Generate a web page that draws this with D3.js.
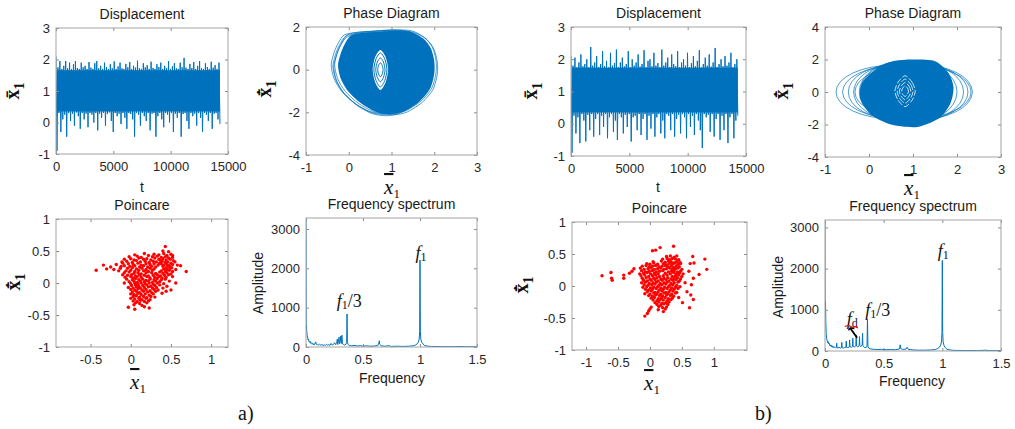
<!DOCTYPE html>
<html>
<head>
<meta charset="utf-8">
<script src="https://cdn.jsdelivr.net/npm/d3@7"></script>
<style>
  body { margin: 0; background: #fff; }
  svg { display: block; font-family: "Liberation Sans", Arial, sans-serif; }
</style>
</head>
<body>
<svg id="fig" width="1015" height="429"></svg>
<script>
// ---- data ----
const T_END = 14300;

// displacement: alternating upper / lower swings of the response
const dispUpA = [2.1, 1.75, 1.95, 1.7, 1.8, 1.95, 1.72, 1.9, 1.7, 1.85, 1.95, 1.73, 1.7, 1.9, 1.75, 1.8, 1.7, 1.92, 1.74, 1.7, 1.88, 1.95, 1.72, 1.8, 1.7, 1.9, 1.76, 1.7, 1.85, 1.72, 1.94, 1.7, 1.78, 1.9, 1.72, 1.7, 1.86, 1.75, 1.92, 1.7, 1.8, 1.74, 1.96, 1.72, 1.7, 1.88, 1.75, 1.82, 1.7, 1.93, 1.73, 1.7, 1.85, 1.76, 1.9, 1.7, 1.8, 1.72, 1.95, 1.7, 1.78, 1.88, 1.72, 1.7, 1.9, 1.75, 2.05, 1.74, 1.7, 1.86, 1.73, 1.92, 1.7, 1.8, 1.95, 1.72, 1.7, 1.88, 1.76, 1.7, 1.93, 1.74, 1.82, 1.7, 1.9];
const dispLoA = [-0.9, 0.3, -0.3, 0.1, 0.25, -0.45, 0.3, 0.05, 0.28, -0.1, 0.32, 0.2, -0.2, 0.3, 0.1, 0.28, -0.15, 0.3, 0.25, 0.0, 0.3, -0.25, 0.28, 0.15, 0.3, -0.1, 0.27, 0.32, 0.05, -0.3, 0.3, 0.2, 0.28, -0.05, 0.3, 0.15, -0.2, 0.3, 0.27, 0.1, -0.45, 0.3, 0.25, -0.1, 0.3, 0.2, 0.05, 0.3, -0.25, 0.28, 0.3, -0.45, 0.2, 0.3, 0.1, -0.15, 0.3, 0.25, 0.0, 0.3, -0.3, 0.28, 0.15, 0.3, -0.45, 0.27, 0.3, 0.05, -0.2, 0.3, 0.2, 0.28, -0.1, 0.3, 0.15, -0.3, 0.3, 0.25, 0.05, 0.3, -0.2, 0.28, 0.3, 0.1, -0.05];
const dispBandA = [0.35, 1.66];

const dispUpB = [2.1, 1.8, 2.05, 1.75, 1.9, 2.15, 1.78, 1.85, 2.0, 1.75, 2.38, 1.8, 1.9, 2.1, 1.76, 1.85, 2.25, 1.78, 1.95, 1.75, 2.2, 1.8, 1.88, 2.3, 1.76, 1.9, 2.05, 1.78, 1.85, 2.25, 1.75, 2.0, 1.8, 1.9, 2.15, 1.77, 1.85, 2.28, 1.75, 1.95, 2.0, 1.78, 2.2, 1.8, 1.88, 1.75, 2.3, 1.8, 1.9, 2.05, 1.76, 2.15, 1.85, 1.78, 2.25, 1.75, 1.9, 2.0, 1.8, 2.2, 1.76, 1.88, 2.1, 1.78, 1.95, 2.28, 1.75, 1.85, 2.05, 1.8, 2.15, 1.77, 1.9, 2.35, 1.76, 1.85, 2.0, 1.78, 2.1, 1.8, 1.9, 2.2, 1.75, 1.85, 2.0];
const dispLoB = [-0.9, 0.25, -0.3, 0.2, -0.6, 0.3, 0.1, -0.55, 0.28, -0.2, 0.3, -0.4, 0.15, 0.3, -0.35, 0.25, -0.1, 0.3, -0.45, 0.2, 0.3, -0.25, 0.1, -0.5, 0.3, 0.2, -0.3, 0.28, -0.1, 0.3, -0.55, 0.2, 0.25, -0.2, 0.3, -0.35, 0.15, 0.3, -0.5, 0.25, -0.15, 0.3, -0.4, 0.2, 0.3, -0.3, 0.1, -0.45, 0.3, 0.25, -0.2, 0.3, -0.4, 0.15, 0.28, -0.3, 0.3, 0.2, -0.45, 0.3, -0.1, 0.25, -0.35, 0.3, 0.1, -0.2, -0.75, 0.3, 0.2, 0.28, -0.25, 0.3, -0.4, 0.15, 0.3, -0.5, 0.25, -0.2, 0.3, -0.6, 0.2, 0.3, -0.45, 0.1, 0.25];
const dispBandB = [0.35, 1.74];

// phase portrait outlines (x, xdot)
const phaseBlobA = [[0.05, 1.6], [0.3, 1.72], [0.7, 1.78], [1.1, 1.83], [1.45, 1.78], [1.75, 1.45], [1.92, 1.0], [2.0, 0.4], [2.0, -0.2], [1.9, -0.9], [1.65, -1.5], [1.3, -1.95], [1.0, -2.08], [0.65, -1.98], [0.3, -1.6], [0.0, -1.05], [-0.18, -0.45], [-0.25, 0.2], [-0.18, 0.8], [-0.08, 1.25]];
const phaseShiftA = [[-0.16, 0.02], [-0.12, -0.03], [-0.08, 0.03], [0.04, 0.03], [0.07, -0.03], [-0.1, -0.08]];
const holeA = [[0.74, 0.92], [0.86, 0.6], [0.92, 0.0], [0.86, -0.6], [0.74, -0.95], [0.62, -0.6], [0.56, 0.0], [0.62, 0.6]];
const holeScaleA = [0.85, 0.6, 0.35];

const phaseBlobB = [[1.0, 2.0], [1.5, 1.9], [1.8, 1.2], [1.92, 0.3], [1.85, -0.7], [1.6, -1.6], [1.1, -2.15], [0.5, -2.0], [0.05, -1.4], [-0.2, -0.4], [-0.15, 0.6], [0.2, 1.5], [0.55, 1.9]];
const ringCxB = [0.55, 0.6, 0.65, 0.7, 0.78, 1.0, 1.05, 1.1, 1.0, 0.9];
const ringRxB = [1.3, 1.2, 1.12, 1.05, 1.0, 1.15, 1.2, 1.25, 1.32, 1.1];
const ringRyB = [1.65, 1.6, 1.7, 1.75, 1.9, 1.85, 1.75, 1.7, 1.65, 1.95];
const holeB = [[0.82, 1.0], [0.98, 0.6], [1.05, 0.05], [0.98, -0.5], [0.82, -0.9], [0.66, -0.5], [0.59, 0.05], [0.66, 0.6]];
const holeScaleB = [1, 0.78, 0.56, 0.34];

// Poincare sections: [x, xdot]
const poincA = [
  [-0.43, 0.20], [-0.34, 0.28], [-0.30, 0.22], [-0.25, 0.25], [-0.21, 0.21], [-0.18, 0.29], [-0.15, 0.19], [-0.12, 0.26], [-0.10, 0.31], [-0.13, 0.23],
  [0.43, 0.57], [0.40, 0.50], [0.47, 0.49], [0.52, 0.43], [0.58, 0.28], [0.62, 0.27], [0.69, 0.18],
  [0.05, 0.44], [0.17, 0.46], [0.29, 0.45], [0.35, 0.44], [0.41, 0.46], [0.45, 0.43], [0.50, 0.45],
  [-0.02, 0.41], [0.08, 0.42], [0.13, 0.40], [0.22, 0.43], [0.27, 0.41], [0.33, 0.42], [0.38, 0.40], [0.43, 0.41], [0.47, 0.39], [0.52, 0.40],
  [-0.08, 0.37], [0.0, 0.38], [0.04, 0.36], [0.10, 0.39], [0.16, 0.37], [0.20, 0.38], [0.25, 0.36], [0.30, 0.39], [0.35, 0.37], [0.37, 0.35], [0.40, 0.38], [0.44, 0.36], [0.49, 0.37], [0.53, 0.35],
  [-0.11, 0.33], [-0.05, 0.34], [0.02, 0.32], [0.07, 0.35], [0.12, 0.33], [0.18, 0.34], [0.23, 0.32], [0.28, 0.34], [0.32, 0.33], [0.36, 0.31], [0.39, 0.34], [0.43, 0.32], [0.46, 0.33], [0.50, 0.31], [0.55, 0.33],
  [-0.03, 0.30], [0.03, 0.29], [0.09, 0.31], [0.13, 0.28], [0.19, 0.30], [0.24, 0.29], [0.29, 0.30], [0.34, 0.28], [0.38, 0.30], [0.41, 0.28], [0.45, 0.29], [0.48, 0.27], [0.52, 0.29],
  [-0.08, 0.27], [-0.01, 0.26], [0.05, 0.27], [0.11, 0.25], [0.16, 0.27], [0.21, 0.25], [0.26, 0.26], [0.31, 0.25], [0.40, 0.26], [0.44, 0.24], [0.47, 0.26], [0.51, 0.24],
  [-0.04, 0.23], [0.02, 0.24], [0.07, 0.22], [0.14, 0.23], [0.19, 0.21], [0.24, 0.23], [0.29, 0.22], [0.41, 0.22], [0.45, 0.21], [0.49, 0.23], [0.56, 0.21],
  [-0.06, 0.19], [0.0, 0.20], [0.05, 0.18], [0.10, 0.20], [0.16, 0.19], [0.22, 0.18], [0.27, 0.20], [0.38, 0.19], [0.43, 0.18], [0.48, 0.20], [0.52, 0.18],
  [-0.08, 0.16], [-0.02, 0.17], [0.04, 0.15], [0.09, 0.16], [0.13, 0.14], [0.19, 0.16], [0.26, 0.16], [0.31, 0.15], [0.36, 0.17], [0.40, 0.15], [0.45, 0.16], [0.50, 0.14],
  [-0.10, 0.13], [-0.04, 0.12], [0.01, 0.13], [0.06, 0.11], [0.11, 0.13], [0.17, 0.12], [0.22, 0.11], [0.28, 0.12], [0.33, 0.13], [0.37, 0.11], [0.42, 0.12], [0.47, 0.13],
  [-0.07, 0.09], [0.0, 0.10], [0.03, 0.08], [0.08, 0.10], [0.13, 0.09], [0.20, 0.10], [0.24, 0.08], [0.30, 0.09], [0.35, 0.10], [0.39, 0.08], [0.44, 0.09], [0.52, 0.10],
  [-0.05, 0.06], [0.02, 0.05], [0.06, 0.07], [0.10, 0.05], [0.15, 0.06], [0.19, 0.04], [0.24, 0.06], [0.29, 0.05], [0.33, 0.07], [0.38, 0.05], [0.43, 0.06],
  [-0.02, 0.02], [0.04, 0.03], [0.08, 0.01], [0.12, 0.03], [0.17, 0.02], [0.22, 0.03], [0.27, 0.01], [0.31, 0.03], [0.36, 0.02], [0.48, 0.03],
  [-0.08, 0.0], [0.0, -0.01], [0.05, 0.0], [0.09, -0.02], [0.13, 0.0], [0.18, -0.01], [0.23, 0.0], [0.28, -0.02], [0.33, 0.0], [0.41, -0.01], [0.56, 0.0],
  [0.01, -0.04], [0.06, -0.03], [0.10, -0.05], [0.15, -0.04], [0.20, -0.03], [0.25, -0.05], [0.30, -0.04], [0.36, -0.03], [0.45, -0.05],
  [-0.03, -0.07], [0.03, -0.08], [0.07, -0.06], [0.12, -0.08], [0.17, -0.07], [0.22, -0.06], [0.27, -0.08], [0.32, -0.07], [0.40, -0.08],
  [0.0, -0.10], [0.05, -0.11], [0.09, -0.09], [0.14, -0.11], [0.19, -0.10], [0.24, -0.12], [0.29, -0.10], [0.34, -0.11], [0.50, -0.11],
  [0.02, -0.14], [0.07, -0.13], [0.11, -0.15], [0.16, -0.13], [0.21, -0.14], [0.26, -0.15], [0.31, -0.13], [0.44, -0.13],
  [0.0, -0.17], [0.04, -0.18], [0.09, -0.16], [0.13, -0.18], [0.18, -0.17], [0.23, -0.19], [0.28, -0.17], [0.39, -0.16],
  [0.03, -0.21], [0.07, -0.20], [0.11, -0.22], [0.16, -0.21], [0.20, -0.23], [0.25, -0.21], [0.30, -0.22],
  [0.0, -0.24], [0.05, -0.25], [0.10, -0.24], [0.14, -0.26], [0.19, -0.24], [0.24, -0.26],
  [0.03, -0.28], [0.08, -0.29], [0.12, -0.27], [0.17, -0.29], [0.22, -0.28],
  [0.06, -0.31], [0.11, -0.32], [0.20, -0.31],
  [0.04, -0.34], [0.14, -0.35],
  [-0.03, -0.38], [0.17, -0.37], [0.23, -0.39],
  [0.05, -0.41]
];
const poincB = [
  [0.37, 0.62], [0.16, 0.60], [0.04, 0.55], [0.09, 0.56],
  [0.26, 0.46], [0.32, 0.47], [0.38, 0.45], [0.42, 0.47], [0.67, 0.46],
  [0.20, 0.42], [0.27, 0.43], [0.31, 0.41], [0.35, 0.43], [0.40, 0.42], [0.45, 0.41], [0.86, 0.42],
  [0.05, 0.38], [0.18, 0.39], [0.24, 0.37], [0.29, 0.39], [0.33, 0.38], [0.37, 0.36], [0.42, 0.38], [0.47, 0.37],
  [-0.05, 0.35], [0.0, 0.34], [0.06, 0.36], [0.12, 0.34], [0.21, 0.35], [0.26, 0.33], [0.30, 0.35], [0.35, 0.34], [0.39, 0.36], [0.44, 0.34], [0.48, 0.35], [0.63, 0.35], [0.69, 0.36],
  [-0.12, 0.31], [-0.06, 0.32], [-0.01, 0.30], [0.04, 0.31], [0.09, 0.32], [0.14, 0.30], [0.19, 0.31], [0.24, 0.32], [0.28, 0.30], [0.33, 0.31], [0.37, 0.29], [0.41, 0.31], [0.46, 0.30],
  [-0.25, 0.27], [-0.15, 0.28], [-0.09, 0.26], [-0.03, 0.27], [0.02, 0.28], [0.07, 0.26], [0.12, 0.27], [0.17, 0.28], [0.22, 0.26], [0.26, 0.27], [0.31, 0.28], [0.35, 0.26], [0.40, 0.27], [0.44, 0.28], [0.50, 0.26], [0.89, 0.26],
  [-0.28, 0.23], [-0.13, 0.24], [-0.07, 0.22], [-0.01, 0.23], [0.04, 0.24], [0.10, 0.22], [0.15, 0.23], [0.20, 0.24], [0.29, 0.22], [0.34, 0.23], [0.38, 0.24], [0.43, 0.22], [0.48, 0.23], [0.61, 0.23],
  [-0.61, 0.21], [-0.32, 0.20], [-0.16, 0.19], [-0.10, 0.20], [-0.04, 0.21], [0.01, 0.19], [0.07, 0.20], [0.13, 0.19], [0.24, 0.20], [0.32, 0.19], [0.37, 0.21], [0.41, 0.19], [0.46, 0.20], [0.52, 0.19],
  [-0.75, 0.16], [-0.41, 0.17], [-0.14, 0.16], [-0.08, 0.17], [-0.02, 0.15], [0.04, 0.16], [0.09, 0.17], [0.15, 0.15], [0.21, 0.16], [0.27, 0.17], [0.35, 0.15], [0.40, 0.16], [0.45, 0.17], [0.50, 0.15], [0.77, 0.18],
  [-0.60, 0.12], [-0.41, 0.12], [-0.12, 0.12], [-0.06, 0.13], [0.0, 0.11], [0.06, 0.12], [0.11, 0.13], [0.17, 0.11], [0.22, 0.12], [0.28, 0.13], [0.33, 0.11], [0.38, 0.12], [0.43, 0.13], [0.48, 0.11], [0.68, 0.12],
  [-0.59, 0.09], [-0.10, 0.09], [-0.04, 0.08], [0.02, 0.09], [0.08, 0.10], [0.13, 0.08], [0.19, 0.09], [0.25, 0.10], [0.30, 0.08], [0.36, 0.09], [0.41, 0.10], [0.46, 0.08],
  [-0.13, 0.05], [-0.07, 0.06], [-0.01, 0.04], [0.05, 0.05], [0.10, 0.06], [0.16, 0.04], [0.22, 0.05], [0.27, 0.06], [0.33, 0.04], [0.38, 0.05], [0.44, 0.06], [0.55, 0.05],
  [-0.09, 0.02], [-0.03, 0.01], [0.03, 0.02], [0.08, 0.03], [0.14, 0.01], [0.19, 0.02], [0.25, 0.03], [0.31, 0.01], [0.36, 0.02], [0.42, 0.01], [0.65, 0.02],
  [-0.11, -0.02], [-0.05, -0.01], [0.01, -0.03], [0.06, -0.02], [0.12, -0.01], [0.17, -0.03], [0.23, -0.02], [0.29, -0.01], [0.34, -0.03], [0.40, -0.02], [0.47, -0.01],
  [-0.07, -0.05], [-0.02, -0.06], [0.04, -0.05], [0.10, -0.04], [0.15, -0.06], [0.21, -0.05], [0.27, -0.04], [0.32, -0.06], [0.38, -0.05], [0.44, -0.04],
  [-0.04, -0.09], [0.02, -0.08], [0.08, -0.10], [0.13, -0.09], [0.19, -0.08], [0.25, -0.10], [0.30, -0.09], [0.36, -0.08], [0.42, -0.10], [0.58, -0.09],
  [-0.08, -0.12], [0.0, -0.13], [0.06, -0.11], [0.11, -0.12], [0.17, -0.13], [0.22, -0.11], [0.28, -0.12], [0.34, -0.13], [0.40, -0.11],
  [-0.02, -0.15], [0.04, -0.16], [0.09, -0.14], [0.15, -0.15], [0.20, -0.16], [0.26, -0.14], [0.32, -0.15], [0.37, -0.16], [0.64, -0.14],
  [0.02, -0.19], [0.07, -0.18], [0.13, -0.20], [0.18, -0.19], [0.24, -0.18], [0.29, -0.20], [0.35, -0.19], [0.45, -0.18],
  [0.05, -0.22], [0.11, -0.23], [0.16, -0.21], [0.21, -0.22], [0.27, -0.23], [0.33, -0.21], [0.68, -0.21],
  [0.08, -0.26], [0.14, -0.25], [0.19, -0.27], [0.25, -0.26], [0.30, -0.25], [0.51, -0.26],
  [0.11, -0.29], [0.17, -0.30], [0.22, -0.28], [0.28, -0.29],
  [0.02, -0.33], [0.14, -0.32], [0.20, -0.34], [0.26, -0.33], [0.62, -0.34],
  [0.0, -0.36], [0.13, -0.37], [0.24, -0.36],
  [-0.02, -0.39], [0.21, -0.40],
  [-0.04, -0.43], [-0.08, -0.47]
];

// amplitude spectra: [frequency, amplitude]
const specA = [[0, 3300], [0.002, 600], [0.006, 420], [0.01, 300], [0.014, 250], [0.018, 180], [0.022, 200], [0.026, 140], [0.03, 120], [0.035, 150], [0.04, 100], [0.045, 90], [0.05, 110], [0.055, 70], [0.06, 90], [0.065, 60], [0.07, 80], [0.075, 60], [0.08, 100], [0.085, 130], [0.09, 70], [0.1, 60], [0.11, 50], [0.12, 70], [0.13, 45], [0.14, 60], [0.15, 40], [0.16, 55], [0.17, 40], [0.18, 70], [0.19, 45], [0.2, 60], [0.21, 40], [0.22, 90], [0.23, 50], [0.24, 60], [0.25, 110], [0.26, 60], [0.27, 120], [0.275, 200], [0.278, 60], [0.285, 150], [0.29, 250], [0.294, 80], [0.3, 130], [0.305, 280], [0.31, 90], [0.315, 300], [0.32, 80], [0.33, 60], [0.34, 50], [0.35, 70], [0.357, 120], [0.36, 840], [0.363, 120], [0.37, 60], [0.38, 40], [0.4, 30], [0.42, 40], [0.45, 25], [0.48, 35], [0.5, 20], [0.53, 30], [0.56, 20], [0.6, 25], [0.63, 40], [0.64, 110], [0.643, 160], [0.646, 70], [0.66, 30], [0.7, 20], [0.72, 35], [0.75, 15], [0.8, 20], [0.85, 15], [0.9, 20], [0.94, 30], [0.96, 50], [0.975, 80], [0.985, 120], [0.993, 200], [0.997, 400], [1.0, 2210], [1.003, 400], [1.007, 200], [1.015, 120], [1.025, 80], [1.04, 40], [1.07, 20], [1.1, 15], [1.2, 10], [1.3, 8], [1.37, 15], [1.4, 8], [1.5, 5]];
const specB = [[0, 3180], [0.001, 1250], [0.004, 1200], [0.007, 700], [0.01, 420], [0.014, 300], [0.018, 260], [0.022, 200], [0.026, 230], [0.03, 170], [0.035, 190], [0.04, 140], [0.045, 120], [0.05, 150], [0.055, 100], [0.06, 130], [0.065, 90], [0.07, 110], [0.075, 80], [0.08, 100], [0.085, 90], [0.09, 70], [0.097, 90], [0.1, 190], [0.103, 80], [0.11, 70], [0.12, 90], [0.13, 70], [0.14, 80], [0.143, 210], [0.146, 80], [0.155, 70], [0.165, 80], [0.178, 90], [0.181, 240], [0.184, 90], [0.195, 80], [0.207, 100], [0.21, 270], [0.213, 100], [0.225, 90], [0.234, 110], [0.237, 310], [0.24, 110], [0.25, 100], [0.263, 130], [0.266, 390], [0.269, 120], [0.28, 100], [0.291, 130], [0.294, 350], [0.297, 120], [0.305, 110], [0.317, 140], [0.32, 430], [0.323, 130], [0.335, 90], [0.35, 80], [0.358, 120], [0.362, 770], [0.366, 110], [0.375, 60], [0.39, 50], [0.42, 40], [0.45, 35], [0.48, 40], [0.52, 30], [0.56, 35], [0.6, 30], [0.635, 50], [0.641, 150], [0.645, 60], [0.66, 40], [0.69, 45], [0.7, 90], [0.71, 40], [0.75, 25], [0.8, 20], [0.85, 20], [0.9, 25], [0.94, 35], [0.96, 60], [0.975, 90], [0.985, 140], [0.993, 220], [0.997, 450], [1.0, 2200], [1.003, 450], [1.007, 220], [1.015, 130], [1.025, 80], [1.04, 40], [1.07, 25], [1.1, 15], [1.2, 12], [1.3, 10], [1.37, 20], [1.4, 10], [1.5, 8]];

// tick values
const ticksT = [0, 5000, 10000, 15000];
const ticksDisp = [-1, 0, 1, 2, 3];
const ticksPhaseX = [-1, 0, 1, 2, 3];
const ticksPhaseYA = [-4, -2, 0, 2];
const ticksPhaseYB = [-4, -2, 0, 2, 4];
const ticksPoincXA = [-0.5, 0, 0.5, 1];
const ticksPoincXB = [-1, -0.5, 0, 0.5, 1];
const ticksPoincY = [-1, -0.5, 0, 0.5, 1];
const ticksFreq = [0, 0.5, 1, 1.5];
const ticksAmp = [0, 1000, 2000, 3000];

// ---- drawing ----
const svg = d3.select("#fig");
const BLUE = "#0072BD";
const RED = "#ff0000";
const SERIF = "'Liberation Serif', 'Times New Roman', serif";
const SANS = "'Liberation Sans', Arial, sans-serif";
const defs = svg.append("defs");
let clipCount = 0;

function makePanel(box, xDomain, yDomain) {
  const x = d3.scaleLinear().domain(xDomain).range([box.x0, box.x1]);
  const y = d3.scaleLinear().domain(yDomain).range([box.y1, box.y0]);
  const id = "clip" + (clipCount++);
  defs.append("clipPath").attr("id", id).append("rect")
    .attr("x", box.x0).attr("y", box.y0)
    .attr("width", box.x1 - box.x0).attr("height", box.y1 - box.y0);
  const g = svg.append("g");
  const plot = g.append("g").attr("clip-path", `url(#${id})`);
  return { box, x, y, g, plot };
}

function drawAxes(p, xTicks, yTicks, title) {
  const { g, x, y, box } = p;
  const fmt = d => String(d);
  const ax = g.append("g");
  ax.append("g").attr("transform", `translate(0,${box.y1})`)
    .call(d3.axisBottom(x).tickValues(xTicks).tickFormat(fmt).tickSizeInner(-3).tickSizeOuter(0).tickPadding(8));
  ax.append("g").attr("transform", `translate(${box.x0},0)`)
    .call(d3.axisLeft(y).tickValues(yTicks).tickFormat(fmt).tickSizeInner(-3).tickSizeOuter(0).tickPadding(6));
  ax.append("g").attr("transform", `translate(0,${box.y0})`)
    .call(d3.axisTop(x).tickValues(xTicks).tickFormat("").tickSizeInner(-3).tickSizeOuter(0));
  ax.append("g").attr("transform", `translate(${box.x1},0)`)
    .call(d3.axisRight(y).tickValues(yTicks).tickFormat("").tickSizeInner(-3).tickSizeOuter(0));
  ax.selectAll(".domain").remove();
  ax.selectAll(".tick line").attr("stroke", "#8a8a8a");
  ax.selectAll("g").attr("font-size", 13).attr("font-family", SANS);
  ax.selectAll(".tick text").attr("fill", "#262626");
  g.append("rect")
    .attr("x", box.x0).attr("y", box.y0)
    .attr("width", box.x1 - box.x0).attr("height", box.y1 - box.y0)
    .attr("fill", "none").attr("stroke", "#a3a3a3").attr("stroke-width", 1);
  g.append("text")
    .attr("x", (box.x0 + box.x1) / 2).attr("y", box.y0 - 9)
    .attr("text-anchor", "middle").attr("font-size", 14).attr("fill", "#1a1a1a")
    .text(title);
}

// x-bar label along an x axis, e.g. under the phase plots
function xBarLabel(cx, base) {
  const t = svg.append("text").attr("x", cx).attr("y", base)
    .attr("text-anchor", "middle").attr("font-family", SERIF).attr("fill", "#111");
  t.append("tspan").attr("font-size", 21).attr("font-style", "italic")
    .style("text-decoration", "overline").text("x");
  t.append("tspan").attr("font-size", 13).attr("dy", 4).text("1");
}

// rotated bold label beside a y axis
function yBarLabel(bx, cy, dotted) {
  const t = svg.append("text")
    .attr("transform", `translate(${bx},${cy}) rotate(-90)`)
    .attr("text-anchor", "middle").attr("font-family", SERIF)
    .attr("font-weight", "bold").attr("fill", "#111");
  t.append("tspan").attr("font-size", 20).text(dotted ? "x\u0304\u0307" : "x\u0304");
  t.append("tspan").attr("font-size", 14).attr("dy", 5).text("1");
}

function plainLabel(x, y, text, rotate) {
  svg.append("text")
    .attr("transform", rotate ? `translate(${x},${y}) rotate(-90)` : `translate(${x},${y})`)
    .attr("text-anchor", "middle").attr("font-size", 14).attr("font-family", SANS)
    .attr("fill", "#1a1a1a").text(text);
}

function drawDisp(p, up, lo, band) {
  const n = Math.min(up.length, lo.length);
  const dt = T_END / (2 * n - 1);
  const pts = [];
  for (let i = 0; i < n; i++) {
    pts.push([2 * i * dt, up[i]]);
    pts.push([(2 * i + 1) * dt, lo[i]]);
  }
  p.plot.append("rect")
    .attr("x", p.x(dt)).attr("width", p.x(T_END) - p.x(dt))
    .attr("y", p.y(band[1])).attr("height", p.y(band[0]) - p.y(band[1]))
    .attr("fill", BLUE);
  p.plot.append("path").datum(pts)
    .attr("d", d3.line().x(d => p.x(d[0])).y(d => p.y(d[1])))
    .attr("fill", "none").attr("stroke", BLUE).attr("stroke-width", 1);
}

function closedLine(p) {
  return d3.line().x(d => p.x(d[0])).y(d => p.y(d[1])).curve(d3.curveCardinalClosed.tension(0.2));
}

function scaledAbout(pts, k) {
  const cx = d3.mean(pts, d => d[0]), cy = d3.mean(pts, d => d[1]);
  return pts.map(d => [cx + (d[0] - cx) * k, cy + (d[1] - cy) * k]);
}

function drawPoincare(p, pts) {
  p.plot.selectAll("circle").data(pts).join("circle")
    .attr("cx", d => p.x(d[0])).attr("cy", d => p.y(d[1]))
    .attr("r", 1.7).attr("fill", RED);
}

function drawSpectrum(p, spec) {
  p.plot.append("path").datum(spec)
    .attr("d", d3.line().x(d => p.x(d[0])).y(d => p.y(d[1])))
    .attr("fill", "none").attr("stroke", BLUE).attr("stroke-width", 1);
}

// f-type annotation: italic f, small subscript, optional trailing text
function fLabel(p, fx, fy, sub, tail) {
  const t = p.g.append("text").attr("x", p.x(fx)).attr("y", p.y(fy))
    .attr("font-family", SERIF).attr("fill", "#111");
  t.append("tspan").attr("font-size", 18).attr("font-style", "italic").text("f");
  t.append("tspan").attr("font-size", 12).attr("dy", 2).text(sub);
  if (tail) t.append("tspan").attr("font-size", 18).attr("dy", -2).text(tail);
}

// ===== case a) =====
const dA = makePanel({ x0: 56, x1: 228, y0: 28, y1: 154 }, [0, 15000], [-1, 3]);
drawDisp(dA, dispUpA, dispLoA, dispBandA);
drawAxes(dA, ticksT, ticksDisp, "Displacement");
yBarLabel(19, 91, false);
plainLabel(142, 192, "t");

const pA = makePanel({ x0: 306, x1: 477, y0: 27, y1: 155 }, [-1, 3], [-4, 2]);
phaseShiftA.forEach(s => {
  pA.plot.append("path").datum(phaseBlobA.map(d => [d[0] + s[0], d[1] + s[1]]))
    .attr("d", closedLine(pA)).attr("fill", "none").attr("stroke", BLUE).attr("stroke-width", 0.7);
});
pA.plot.append("path").datum(phaseBlobA).attr("d", closedLine(pA)).attr("fill", BLUE);
pA.plot.append("path").datum(holeA).attr("d", closedLine(pA)).attr("fill", "#fff");
holeScaleA.forEach(k => {
  pA.plot.append("path").datum(scaledAbout(holeA, k)).attr("d", closedLine(pA))
    .attr("fill", "none").attr("stroke", BLUE).attr("stroke-width", 1);
});
drawAxes(pA, ticksPhaseX, ticksPhaseYA, "Phase Diagram");
yBarLabel(271, 89, true);
xBarLabel(392, 194);

const qA = makePanel({ x0: 56, x1: 228, y0: 219, y1: 347 }, [-0.93, 1.21], [-1, 1]);
drawPoincare(qA, poincA);
drawAxes(qA, ticksPoincXA, ticksPoincY, "Poincare");
yBarLabel(20, 282, true);
xBarLabel(138, 389);

const sA = makePanel({ x0: 306, x1: 477, y0: 218, y1: 347 }, [0, 1.5], [0, 3280]);
drawSpectrum(sA, specA);
drawAxes(sA, ticksFreq, ticksAmp, "Frequency spectrum");
plainLabel(263, 283, "Amplitude", true);
plainLabel(392, 383, "Frequency");
fLabel(sA, 0.96, 2240, "1");
fLabel(sA, 0.27, 1025, "1", "/3");

svg.append("text").attr("x", 238).attr("y", 420).attr("font-family", SERIF)
  .attr("font-size", 20).attr("fill", "#111").text("a)");

// ===== case b) =====
const dB = makePanel({ x0: 571, x1: 746, y0: 27, y1: 156 }, [0, 15000], [-1, 3]);
drawDisp(dB, dispUpB, dispLoB, dispBandB);
drawAxes(dB, ticksT, ticksDisp, "Displacement");
yBarLabel(537, 91, false);
plainLabel(658, 192, "t");

const pB = makePanel({ x0: 825, x1: 1001, y0: 27, y1: 157 }, [-1, 3], [-4, 4]);
ringCxB.forEach((cx, i) => {
  pB.plot.append("ellipse")
    .attr("cx", pB.x(cx)).attr("cy", pB.y(0))
    .attr("rx", pB.x(cx + ringRxB[i]) - pB.x(cx))
    .attr("ry", pB.y(0) - pB.y(ringRyB[i]))
    .attr("fill", "none").attr("stroke", BLUE).attr("stroke-width", 0.7);
});
pB.plot.append("path").datum(phaseBlobB).attr("d", closedLine(pB)).attr("fill", BLUE);
holeScaleB.forEach(k => {
  pB.plot.append("path").datum(scaledAbout(holeB, k)).attr("d", closedLine(pB))
    .attr("fill", "none").attr("stroke", "#fff").attr("stroke-width", 0.8)
    .attr("stroke-dasharray", "6 2");
});
drawAxes(pB, ticksPhaseX, ticksPhaseYB, "Phase Diagram");
yBarLabel(788, 91, true);
xBarLabel(912, 195);

const qB = makePanel({ x0: 572, x1: 747, y0: 222, y1: 350 }, [-1.22, 1.52], [-1, 1]);
drawPoincare(qB, poincB);
drawAxes(qB, ticksPoincXB, ticksPoincY, "Poincare");
yBarLabel(528, 285, true);
xBarLabel(652, 390);

const sB = makePanel({ x0: 825, x1: 1001, y0: 220, y1: 351 }, [0, 1.5], [0, 3180]);
drawSpectrum(sB, specB);
drawAxes(sB, ticksFreq, ticksAmp, "Frequency spectrum");
plainLabel(783, 287, "Amplitude", true);
plainLabel(912, 386, "Frequency");
fLabel(sB, 0.96, 2276, "1");
fLabel(sB, 0.343, 855, "1", "/3");
fLabel(sB, 0.186, 630, "d");
// red squiggle and pointer next to f_d
sB.g.append("path").datum([[0.17, 590], [0.2, 640], [0.23, 560], [0.26, 600], [0.28, 560]])
  .attr("d", d3.line().x(d => sB.x(d[0])).y(d => sB.y(d[1])).curve(d3.curveBasis))
  .attr("fill", "none").attr("stroke", RED).attr("stroke-width", 1.2);
sB.g.append("path").datum([[0.214, 560], [0.274, 320]])
  .attr("d", d3.line().x(d => sB.x(d[0])).y(d => sB.y(d[1])))
  .attr("stroke", "#000").attr("stroke-width", 1.8);
sB.g.append("path").datum([[0.2, 500], [0.214, 560], [0.25, 545]])
  .attr("d", d3.line().x(d => sB.x(d[0])).y(d => sB.y(d[1])))
  .attr("fill", "none").attr("stroke", "#000").attr("stroke-width", 1.4);

svg.append("text").attr("x", 755).attr("y", 420).attr("font-family", SERIF)
  .attr("font-size", 20).attr("fill", "#111").text("b)");
</script>
</body>
</html>
